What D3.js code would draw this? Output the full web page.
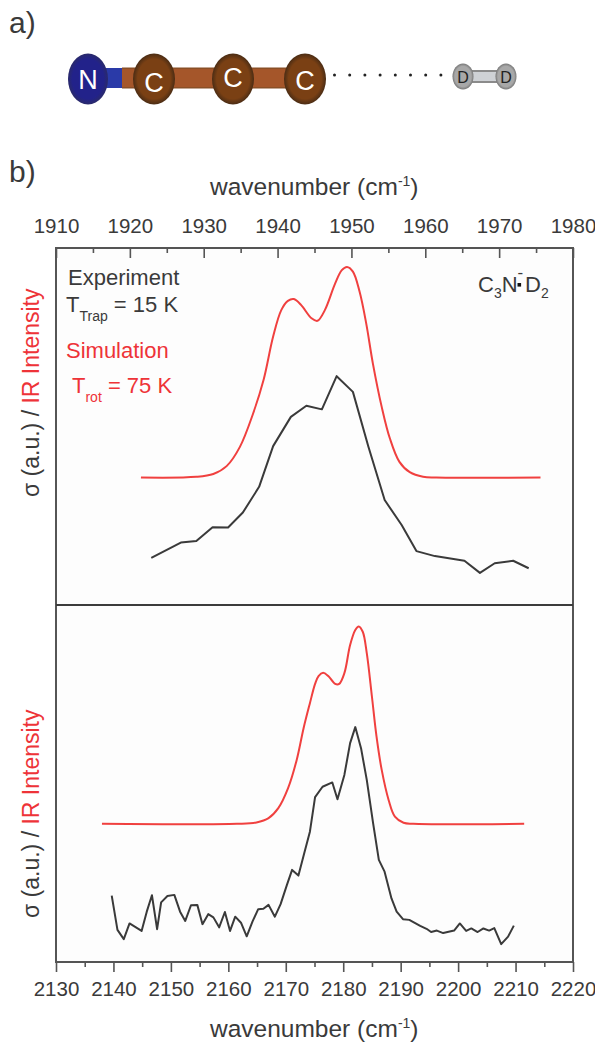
<!DOCTYPE html>
<html>
<head>
<meta charset="utf-8">
<script src="https://cdn.jsdelivr.net/npm/d3@7"></script>
<style>
  html, body { margin: 0; padding: 0; background: #fff; }
  svg { display: block; }
  text { font-family: "Liberation Sans", Arial, sans-serif; fill: #3a3a3a; }
  .red { fill: #ee3338; }
</style>
</head>
<body>
<svg width="595" height="1042"></svg>
<script>
// upper panel, C3N- - D2, wavenumber in cm-1, intensity in a.u. (0-100 = panel height)
const topExpX = [1922.9, 1926.9, 1929.0, 1931.2, 1933.3, 1935.3, 1937.5, 1939.4, 1941.8, 1943.9, 1946.0, 1948.0, 1950.2, 1952.3, 1954.5, 1956.8, 1958.8, 1961.3, 1965.3, 1967.4, 1969.4, 1971.9, 1974.0]
const topExpY = [13.2, 17.5, 17.9, 21.8, 21.7, 25.9, 33.1, 44.5, 52.7, 55.8, 54.8, 64.1, 59.7, 44.3, 29.4, 22.4, 15.1, 13.7, 12.4, 9.0, 11.7, 12.4, 10.3]
const topSimX = [1921.5, 1929.0, 1931.3, 1933.1, 1934.9, 1936.7, 1938.1, 1939.4, 1940.5, 1941.4, 1942.2, 1943.2, 1944.6, 1945.4, 1946.4, 1947.8, 1948.7, 1949.4, 1950.2, 1951.1, 1952.0, 1952.9, 1954.1, 1955.2, 1956.5, 1957.9, 1959.7, 1961.5, 1975.6]
const topSimY = [35.7, 35.9, 36.7, 38.9, 44.3, 53.7, 63.0, 75.2, 82.6, 85.2, 85.7, 84.0, 80.3, 79.6, 82.6, 90.1, 93.8, 94.7, 93.4, 87.8, 78.9, 67.7, 55.5, 46.7, 40.1, 37.2, 35.9, 35.7, 35.7]

// lower panel
const botExpX = [2139.7, 2140.7, 2141.8, 2142.8, 2144.9, 2145.8, 2146.7, 2147.6, 2148.3, 2149.4, 2150.6, 2151.6, 2152.5, 2153.5, 2154.6, 2155.5, 2156.5, 2157.4, 2158.4, 2159.4, 2160.3, 2161.2, 2162.2, 2163.2, 2164.2, 2165.2, 2166.1, 2167.0, 2168.1, 2169.1, 2170.2, 2171.1, 2172.2, 2173.2, 2174.2, 2175.1, 2176.4, 2178.1, 2179.0, 2180.2, 2181.2, 2182.1, 2183.1, 2184.1, 2185.2, 2186.2, 2187.2, 2188.4, 2189.3, 2190.4, 2191.5, 2193.4, 2194.5, 2195.3, 2196.3, 2197.4, 2199.3, 2200.3, 2201.4, 2202.3, 2203.4, 2204.4, 2205.4, 2206.3, 2207.5, 2208.7, 2209.7]
const botExpY = [18.6, 9.0, 6.4, 10.8, 8.7, 14.1, 18.7, 9.2, 16.7, 18.5, 18.8, 14.1, 11.5, 15.9, 16.0, 10.6, 13.4, 12.5, 9.7, 14.0, 8.7, 12.7, 11.0, 7.2, 11.3, 14.8, 14.9, 16.0, 12.7, 16.2, 21.6, 25.8, 24.2, 30.4, 36.5, 46.2, 49.1, 50.3, 45.6, 52.4, 61.3, 65.8, 59.9, 51.0, 38.9, 28.6, 25.3, 17.8, 14.1, 12.0, 11.8, 10.1, 9.3, 8.4, 8.8, 8.1, 8.8, 10.8, 8.7, 9.4, 8.4, 9.4, 8.8, 9.5, 5.0, 7.1, 10.2]
const botSimX = [2138.0, 2161.5, 2164.9, 2167.0, 2168.7, 2170.4, 2171.9, 2173.1, 2174.2, 2175.1, 2175.7, 2176.5, 2177.4, 2178.6, 2179.3, 2180.2, 2181.2, 2182.1, 2182.7, 2183.4, 2184.1, 2185.0, 2185.8, 2186.7, 2187.9, 2189.0, 2190.5, 2192.2, 2211.5]
const botSimY = [38.7, 38.7, 39.1, 40.3, 43.1, 48.7, 56.6, 65.5, 72.5, 77.9, 80.1, 81.0, 80.1, 77.9, 77.9, 80.9, 88.8, 93.0, 94.0, 92.5, 86.5, 74.3, 63.1, 53.8, 45.4, 40.7, 39.0, 38.7, 38.7]

const topTicks = [1910, 1920, 1930, 1940, 1950, 1960, 1970, 1980]
const topMinor = [1915, 1925, 1935, 1945, 1955, 1965, 1975]
const botTicks = [2130, 2140, 2150, 2160, 2170, 2180, 2190, 2200, 2210, 2220]
const botMinor = [2135, 2145, 2155, 2165, 2175, 2185, 2195, 2205, 2215]

const atoms = ['N', 'C', 'C', 'C']
const partners = ['D', 'D']
const dotSteps = d3.range(8)

let svg = d3.select("svg")

let plotLeft = 56, plotRight = 573, plotTop = 248, plotMid = 605, plotBottom = 962
let spine = "#555"

let xTop = d3.scaleLinear().domain([1910, 1980]).range([plotLeft, plotRight])
let xBot = d3.scaleLinear().domain([2130, 2220]).range([plotLeft, plotRight])
let yTop = d3.scaleLinear().domain([0, 100]).range([plotMid, plotTop])
let yBot = d3.scaleLinear().domain([0, 100]).range([plotBottom, plotMid])

// frame
svg.append("rect")
    .attr("x", plotLeft).attr("y", plotTop)
    .attr("width", plotRight - plotLeft).attr("height", plotBottom - plotTop)
    .attr("fill", "#fdfdfd")
    .attr("stroke", spine)
    .attr("stroke-width", 2)
svg.append("line")
    .attr("x1", plotLeft).attr("x2", plotRight)
    .attr("y1", plotMid).attr("y2", plotMid)
    .attr("stroke", "#3c3c3c")
    .attr("stroke-width", 2)

function styleAxis(g) {
  g.select(".domain").remove()
  g.selectAll(".tick line").attr("stroke", spine).attr("stroke-width", 1.6)
  g.selectAll(".tick text")
      .attr("font-size", 20.5)
      .style("font-family", '"Liberation Sans", Arial, sans-serif')
      .attr("fill", "#3a3a3a")
}

// top axis: ticks point into the plot
svg.append("g")
    .attr("transform", `translate(0,${plotTop})`)
    .call(d3.axisTop(xTop).tickValues(topTicks).tickFormat(d3.format("d")).tickSize(-10).tickPadding(15))
    .call(styleAxis)
svg.append("g")
    .attr("transform", `translate(0,${plotTop})`)
    .call(d3.axisTop(xTop).tickValues(topMinor).tickFormat("").tickSize(-5))
    .call(styleAxis)

// bottom axis: ticks point out
svg.append("g")
    .attr("transform", `translate(0,${plotBottom})`)
    .call(d3.axisBottom(xBot).tickValues(botTicks).tickFormat(d3.format("d")).tickSize(10).tickPadding(9))
    .call(styleAxis)
svg.append("g")
    .attr("transform", `translate(0,${plotBottom})`)
    .call(d3.axisBottom(xBot).tickValues(botMinor).tickFormat("").tickSize(5))
    .call(styleAxis)

// curves
function drawCurve(xs, ys, x, y, color, curve) {
  let line = d3.line()
      .x(d => x(d[0]))
      .y(d => y(d[1]))
      .curve(curve)
  svg.append("path")
      .datum(d3.zip(xs, ys))
      .attr("d", line)
      .attr("fill", "none")
      .attr("stroke", color)
      .attr("stroke-width", 2)
      .attr("stroke-linejoin", "round")
}

drawCurve(topSimX, topSimY, xTop, yTop, "#f0403f", d3.curveCatmullRom)
drawCurve(topExpX, topExpY, xTop, yTop, "#3a3a3a", d3.curveLinear)
drawCurve(botSimX, botSimY, xBot, yBot, "#f0403f", d3.curveCatmullRom)
drawCurve(botExpX, botExpY, xBot, yBot, "#3a3a3a", d3.curveLinear)

// text with sub/superscript runs: [string, size, dy, dx]
function rich(x, y, runs, cls) {
  let t = svg.append("text").attr("x", x).attr("y", y).attr("class", cls || null)
  runs.forEach(r => {
    t.append("tspan")
        .attr("font-size", r[1])
        .attr("dy", r[2] || 0)
        .attr("dx", r[3] || 0)
        .text(r[0])
  })
  return t
}

rich(9, 33, [["a)", 30]])
rich(9, 182, [["b)", 30]])

rich(210, 195, [["wavenumber (cm", 24.5], ["-1", 14, -9], [")", 24.5, 9]])
rich(210, 1037, [["wavenumber (cm", 24.5], ["-1", 14, -9], [")", 24.5, 9]])

// legend
rich(68, 285, [["Experiment", 22]])
rich(66, 312, [["T", 22], ["Trap", 14, 9], [" = 15 K", 22, -9]])
rich(66, 358, [["Simulation", 22]], "red")
rich(72, 393, [["T", 22], ["rot", 14, 9], [" = 75 K", 22, -9]], "red")

// species label
rich(478, 292, [["C", 22], ["3", 14, 6], ["N", 22, -6]])
rich(517.5, 278, [["-", 17]])
rich(525, 292, [["D", 22], ["2", 14, 6]])
svg.append("rect")
    .attr("x", 517.5).attr("y", 283)
    .attr("width", 3.6).attr("height", 3.6)
    .attr("fill", "#111")

// y labels
function yLabel(x, y) {
  let t = svg.append("text")
      .attr("transform", `translate(${x},${y}) rotate(-90)`)
      .attr("font-size", 23)
  t.append("tspan").text("σ (a.u.) / ")
  t.append("tspan").attr("class", "red").text("IR Intensity")
}
yLabel(39, 497)
yLabel(38.5, 918)

// molecule
let atomPos = [88, 154, 233, 305]
let molY = 79

let defs = svg.append("defs")
function ballGrad(id, inner, edge) {
  let g = defs.append("radialGradient").attr("id", id)
  g.append("stop").attr("offset", "0%").attr("stop-color", inner)
  g.append("stop").attr("offset", "78%").attr("stop-color", inner)
  g.append("stop").attr("offset", "100%").attr("stop-color", edge)
}
ballGrad("nBall", "#22228a", "#2a2a6a")
ballGrad("cBall", "#7a4014", "#4a2c14")
ballGrad("dBall", "#a8a8a8", "#777")

function bar(x1, x2, y1, y2, fill) {
  svg.append("rect")
      .attr("x", x1).attr("y", y1)
      .attr("width", x2 - x1).attr("height", y2 - y1)
      .attr("fill", fill)
}
bar(122, 290, 67.5, 88.5, "#8a4f26")
bar(122, 290, 69, 87, "#a5562a")
bar(104, 122, 68, 88, "#2a3aa8")

let ball = svg.append("g").selectAll("g")
    .data(atoms)
    .enter().append("g")
    .attr("transform", (d, i) => `translate(${atomPos[i]},${molY})`)
ball.append("ellipse")
    .attr("rx", d => d == 'N' ? 20 : 21)
    .attr("ry", 25.5)
    .attr("fill", d => d == 'N' ? "url(#nBall)" : "url(#cBall)")
ball.append("text")
    .attr("text-anchor", "middle")
    .attr("y", (d, i) => [10, 13, 8, 11][i])
    .attr("font-size", 27)
    .style("fill", "#fff")
    .text(d => d)

svg.append("g").selectAll("circle")
    .data(dotSteps)
    .enter().append("circle")
    .attr("cx", d => 334.5 + d * 15.2)
    .attr("cy", 75)
    .attr("r", 1.5)
    .attr("fill", "#222")

bar(463, 506, 70, 83, "#8b8b8b")
bar(466, 503, 72, 81, "#cfd2d6")
let dBall = svg.append("g").selectAll("g")
    .data(partners)
    .enter().append("g")
    .attr("transform", (d, i) => `translate(${i == 0 ? 463 : 506},76.5)`)
dBall.append("ellipse")
    .attr("rx", 10.5)
    .attr("ry", 13)
    .attr("fill", "url(#dBall)")
dBall.append("text")
    .attr("text-anchor", "middle")
    .attr("y", 6)
    .attr("font-size", 16)
    .style("fill", "#222")
    .text(d => d)
</script>
</body>
</html>
